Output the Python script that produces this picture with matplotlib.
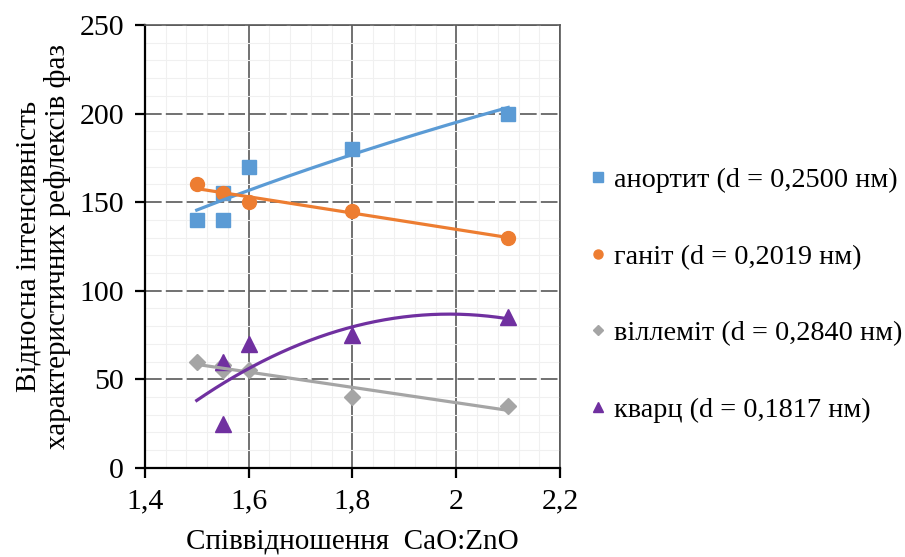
#!/usr/bin/env python3
# Відносна інтенсивність рефлексів фаз vs співвідношення CaO:ZnO

import numpy as np
import matplotlib.pyplot as plt
from matplotlib.ticker import MultipleLocator

plt.rcParams["font.family"] = ["Liberation Serif", "DejaVu Serif"]

# дані
x_anortyt = [1.5, 1.55, 1.55, 1.6, 1.8, 2.1]
y_anortyt = [140, 140, 155, 170, 180, 200]

x_ganit = [1.5, 1.55, 1.6, 1.8, 2.1]
y_ganit = [160, 155, 150, 145, 130]

x_villemit = [1.5, 1.55, 1.55, 1.6, 1.8, 2.1]
y_villemit = [60, 58, 55, 55, 40, 35]

x_kvarts = [1.55, 1.55, 1.6, 1.8, 2.1]
y_kvarts = [60, 25, 70, 75, 85]

labels = [
    "анортит (d = 0,2500 нм)",
    "ганіт (d = 0,2019 нм)",
    "віллеміт (d = 0,2840 нм)",
    "кварц (d = 0,1817 нм)",
]

x_ticks = [1.4, 1.6, 1.8, 2.0, 2.2]
x_tick_labels = ["1,4", "1,6", "1,8", "2", "2,2"]
y_ticks = [0, 50, 100, 150, 200, 250]


def main():
    fig = plt.figure(figsize=(9.05, 5.57), dpi=100)
    ax = fig.add_axes([0.160, 0.160, 0.459, 0.795])

    colors = ["#5B9BD5", "#ED7D31", "#A5A5A5", "#7030A0"]
    markers = ["s", "o", "D", "^"]
    msizes = [10, 10, 8.5, 11]
    series = [
        (x_anortyt, y_anortyt),
        (x_ganit, y_ganit),
        (x_villemit, y_villemit),
        (x_kvarts, y_kvarts),
    ]

    # лінії трендів: лог, лінійна, лінійна, поліном 2
    all_x = np.concatenate([np.array(s[0]) for s in series])
    xs = np.linspace(all_x.min(), all_x.max(), 200)

    for i, ((xd, yd), c, m, ms, lab) in enumerate(zip(series, colors, markers, msizes, labels)):
        ax.plot(xd, yd, linestyle="none", marker=m, markersize=ms,
                color=c, markeredgecolor=c, label=lab, zorder=3 + i)

    for i, ((xd, yd), c) in enumerate(zip(series, colors)):
        xd = np.array(xd, dtype=float)
        yd = np.array(yd, dtype=float)
        if i == 0:
            p = np.polyfit(np.log(xd), yd, 1)
            ys = np.polyval(p, np.log(xs))
        elif i == 3:
            p = np.polyfit(xd, yd, 2)
            ys = np.polyval(p, xs)
        else:
            p = np.polyfit(xd, yd, 1)
            ys = np.polyval(p, xs)
        ax.plot(xs, ys, color=c, linewidth=2.3, zorder=8)

    ax.set_xlim(1.4, 2.2)
    ax.set_ylim(0, 250)
    ax.set_xticks(x_ticks)
    ax.set_xticklabels(x_tick_labels)
    ax.set_yticks(y_ticks)
    ax.xaxis.set_minor_locator(MultipleLocator(0.04))
    ax.yaxis.set_minor_locator(MultipleLocator(10))

    ax.grid(True, which="minor", color="#f0f0f0", linewidth=0.8, zorder=0)
    ax.grid(True, which="major", axis="x", color="#595959", linewidth=1.2)
    ax.grid(True, which="major", axis="y", color="#595959", linewidth=1.2,
            linestyle=(0, (10, 2.5)))
    ax.set_axisbelow(True)

    for side in ["top", "right"]:
        ax.spines[side].set_color("#595959")
        ax.spines[side].set_linewidth(1.2)
    for side in ["left", "bottom"]:
        ax.spines[side].set_color("black")
        ax.spines[side].set_linewidth(1.6)

    ax.tick_params(which="major", direction="out", length=7, width=1.6,
                   labelsize=21.5, pad=8)
    ax.tick_params(which="minor", length=0)

    ax.set_xlabel("Співвідношення  CaO:ZnO", fontsize=21, labelpad=10)
    ax.set_ylabel("Відносна інтенсивність\nхарактеристичних рефлексів фаз",
                  fontsize=21, labelpad=6, linespacing=1.1)

    ax.legend(loc="center left", bbox_to_anchor=(0.652, 0.47),
              bbox_transform=fig.transFigure, frameon=False,
              borderpad=0, borderaxespad=0,
              fontsize=20.3, labelspacing=1.8, handlelength=0.55,
              handletextpad=0.3, markerscale=0.65)

    fig.savefig("out.png", dpi=100)
    plt.close(fig)


if __name__ == "__main__":
    main()
